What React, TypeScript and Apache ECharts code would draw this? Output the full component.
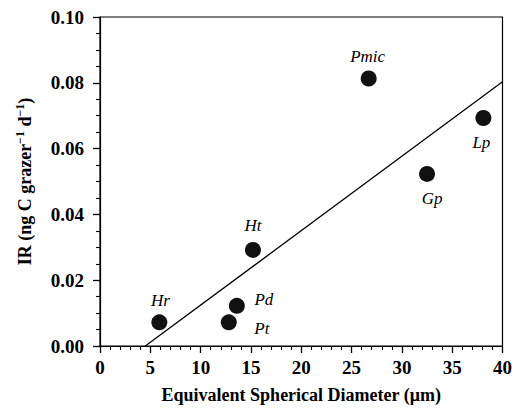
import React, { useEffect, useRef } from "react";
import * as echarts from "echarts";

const taxa = ["Hr", "Pt", "Pd", "Ht", "Pmic", "Gp", "Lp"];
const esd = [5.9, 12.8, 13.6, 15.2, 26.7, 32.5, 38.1];
const ir = [0.0072, 0.0072, 0.0122, 0.0292, 0.0813, 0.0523, 0.0693];
const fitX = [4.5, 40];
const fitY = [0, 0.0803];
const xTicks = [0, 5, 10, 15, 20, 25, 30, 35, 40];
const yTicks = [0.0, 0.02, 0.04, 0.06, 0.08, 0.1];

const labelOffsets: Record<string, [number, number]> = {
  Hr: [1, -22],
  Pt: [33, 6],
  Pd: [27, -6],
  Ht: [0, -24],
  Pmic: [-1, -22],
  Gp: [5, 25],
  Lp: [-2, 24],
};

const FONT = "Liberation Serif";

export default function App() {
  const ref = useRef<HTMLDivElement>(null);
  useEffect(() => {
    document.body.style.margin = "0";
    if (!ref.current) return;
    const chart = echarts.init(ref.current, undefined, { renderer: "svg" });
    chart.setOption({
      animation: false,
      grid: {
        left: 100,
        right: 9,
        top: 17,
        bottom: 64,
        show: true,
        borderColor: "#000",
        borderWidth: 1.2,
        backgroundColor: "transparent",
      },
      xAxis: {
        type: "value",
        min: xTicks[0],
        max: xTicks[xTicks.length - 1],
        interval: 5,
        name: "Equivalent Spherical Diameter (μm)",
        nameLocation: "middle",
        nameGap: 40,
        nameTextStyle: { fontFamily: FONT, fontWeight: "bold", fontSize: 18, color: "#000" },
        axisLine: { show: true, lineStyle: { color: "#000", width: 1.2 } },
        axisTick: { show: true, inside: false, length: 7, lineStyle: { color: "#000", width: 1.3 } },
        minorTick: { show: true, splitNumber: 5, length: 4, lineStyle: { color: "#000", width: 1.1 } },
        splitLine: { show: false },
        axisLabel: {
          margin: 12,
          fontFamily: FONT,
          fontWeight: "bold",
          fontSize: 19,
          color: "#000",
          formatter: (v: number) => String(v),
        },
      },
      yAxis: {
        type: "value",
        min: yTicks[0],
        max: yTicks[yTicks.length - 1],
        interval: 0.02,
        name: "{m|IR (ng C grazer}{s|−1}{m| d}{s|−1}{m|)}",
        nameLocation: "middle",
        nameGap: 64,
        nameTextStyle: {
          fontFamily: FONT,
          fontWeight: "bold",
          fontSize: 18,
          color: "#000",
          rich: {
            m: { fontFamily: FONT, fontWeight: "bold", fontSize: 18, lineHeight: 22, color: "#000" },
            s: { fontFamily: FONT, fontWeight: "bold", fontSize: 12, lineHeight: 12, verticalAlign: "top", color: "#000" },
          },
        },
        axisLine: { show: true, lineStyle: { color: "#000", width: 1.2 } },
        axisTick: { show: true, inside: false, length: 7, lineStyle: { color: "#000", width: 1.3 } },
        minorTick: { show: true, splitNumber: 4, length: 4, lineStyle: { color: "#000", width: 1.1 } },
        splitLine: { show: false },
        axisLabel: {
          margin: 16,
          fontFamily: FONT,
          fontWeight: "bold",
          fontSize: 19,
          color: "#000",
          formatter: (v: number) => v.toFixed(2),
        },
      },
      series: [
        {
          type: "line",
          data: fitX.map((x, i) => [x, fitY[i]]),
          showSymbol: false,
          symbol: "none",
          lineStyle: { color: "#000", width: 1.3 },
          z: 2,
        },
        {
          type: "scatter",
          symbol: "circle",
          symbolSize: 16,
          itemStyle: { color: "#111", opacity: 1 },
          z: 3,
          data: taxa.map((name, i) => ({
            name,
            value: [esd[i], ir[i]],
            label: {
              show: true,
              position: "inside",
              offset: labelOffsets[name],
              formatter: name,
              fontFamily: FONT,
              fontStyle: "italic",
              fontSize: 17,
              color: "#000",
            },
          })),
        },
      ],
    });
    return () => chart.dispose();
  }, []);
  return <div ref={ref} style={{ width: 515, height: 410 }} />;
}
